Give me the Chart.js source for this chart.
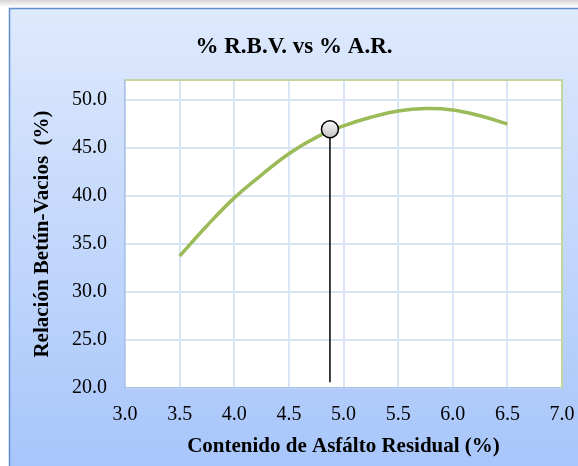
<!DOCTYPE html>
<html>
<head>
<meta charset="utf-8">
<script src="https://cdn.jsdelivr.net/npm/chart.js@4/dist/chart.umd.min.js"></script>
<style>
  html, body { margin: 0; padding: 0; background: #fff; }
  #wrap { width: 578px; height: 466px; }
</style>
</head>
<body>
<div id="wrap"><canvas id="rbv"></canvas></div>
<script>
// values
const asphalt = [3.5, 3.75, 4.0, 4.25, 4.5, 4.75, 5.0, 5.25, 5.5, 5.75, 6.0, 6.25, 6.5];
const rbv = [33.75, 36.9, 39.8, 42.2, 44.4, 46.1, 47.3, 48.2, 48.85, 49.1, 48.95, 48.35, 47.5];
const optimum = { x: 4.876, y: 46.95 };
const dropBottom = 20.6;
const yTicks = [20, 25, 30, 35, 40, 45, 50];

const serif = '"Liberation Serif", "Times New Roman", serif';

const frame = {
  id: 'frame',
  beforeDraw(chart) {
    const { ctx, chartArea: a, width, height } = chart;
    ctx.save();
    ctx.fillStyle = '#ffffff';
    ctx.fillRect(0, 0, width, height);
    const sh = ctx.createLinearGradient(0, 0, 0, 7);
    sh.addColorStop(0, '#d4d4d4');
    sh.addColorStop(1, '#ffffff');
    ctx.fillStyle = sh;
    ctx.fillRect(0, 0, width, 7);
    const g = ctx.createLinearGradient(0, 9, 0, height);
    g.addColorStop(0, '#dee9fc');
    g.addColorStop(1, '#a8c6fb');
    ctx.fillStyle = g;
    ctx.fillRect(9, 9, width, height);
    ctx.strokeStyle = '#5f8ccb';
    ctx.lineWidth = 1.5;
    ctx.beginPath();
    ctx.moveTo(9.5, height);
    ctx.lineTo(9.5, 8.5);
    ctx.lineTo(width, 8.5);
    ctx.stroke();
    ctx.fillStyle = '#ffffff';
    ctx.fillRect(a.left, a.top, a.right - a.left, a.bottom - a.top);
    ctx.restore();
  },
  afterDraw(chart) {
    const { ctx, chartArea: a } = chart;
    ctx.save();
    ctx.strokeStyle = '#c3d69b';
    ctx.lineWidth = 2;
    ctx.beginPath();
    ctx.moveTo(a.left, a.top);
    ctx.lineTo(a.right, a.top);
    ctx.lineTo(a.right, a.bottom);
    ctx.stroke();
    ctx.restore();
  }
};

// grey bead with a soft shading, like the office marker
function beadFill(c) {
  const el = c.element;
  if (!el || el.y === undefined) return '#dedede';
  const g = c.chart.ctx.createLinearGradient(0, el.y - 8, 0, el.y + 8);
  g.addColorStop(0, '#f6f6f6');
  g.addColorStop(1, '#c4c4c4');
  return g;
}

new Chart(document.getElementById('rbv'), {
  type: 'scatter',
  data: {
    datasets: [
      {
        label: 'Óptimo',
        data: [optimum],
        pointRadius: 8.5,
        pointBackgroundColor: beadFill,
        pointBorderColor: '#000000',
        pointBorderWidth: 1.5,
        showLine: false
      },
      {
        label: '% R.B.V.',
        data: asphalt.map((x, i) => ({ x: x, y: rbv[i] })),
        showLine: true,
        borderColor: '#9bbb59',
        borderWidth: 3.5,
        pointRadius: 0,
        tension: 0.4
      },
      {
        label: 'drop',
        data: [{ x: optimum.x, y: dropBottom }, { x: optimum.x, y: optimum.y }],
        showLine: true,
        borderColor: '#000000',
        borderWidth: 1.5,
        pointRadius: 0
      }
    ]
  },
  options: {
    responsive: true,
    maintainAspectRatio: false,
    animation: false,
    layout: { padding: { left: 10, right: 0, top: 0, bottom: 0 } },
    plugins: {
      legend: { display: false },
      tooltip: { enabled: false },
      title: {
        display: true,
        text: '% R.B.V. vs % A.R.',
        color: '#000',
        font: { family: serif, size: 23, weight: 'bold' },
        padding: { top: 33, bottom: 19.4 }
      }
    },
    scales: {
      x: {
        type: 'linear',
        min: 3,
        max: 7,
        afterFit: s => {
          s.height = 78;
          s.paddingLeft = 0;
          s.paddingRight = 16;
        },
        ticks: {
          stepSize: 0.5,
          autoSkip: false,
          maxRotation: 0,
          padding: 15,
          color: '#000',
          font: { family: serif, size: 20 },
          callback: v => v.toFixed(1)
        },
        grid: { color: '#d9e4f5', lineWidth: 2, drawTicks: false },
        border: { color: '#a9c2e8', width: 1.5 },
        title: {
          display: true,
          text: 'Contenido de Asfálto Residual (%)',
          color: '#000',
          font: { family: serif, size: 21, weight: 'bold' },
          padding: { top: 0, bottom: 7 }
        }
      },
      y: {
        type: 'linear',
        min: 20,
        max: 52.08,
        afterFit: s => { s.width = 115; },
        afterBuildTicks: s => { s.ticks = yTicks.map(v => ({ value: v })); },
        ticks: {
          padding: 18,
          color: '#000',
          font: { family: serif, size: 20 },
          callback: v => v.toFixed(1)
        },
        grid: { color: '#d9e4f5', lineWidth: 2, drawTicks: false },
        border: { color: '#a9c2e8', width: 1.5 },
        title: {
          display: true,
          text: 'Relación Betún-Vacios  (%)',
          color: '#000',
          font: { family: serif, size: 21, weight: 'bold' },
          padding: { top: 20, bottom: 0 }
        }
      }
    }
  },
  plugins: [frame]
});
</script>
</body>
</html>
